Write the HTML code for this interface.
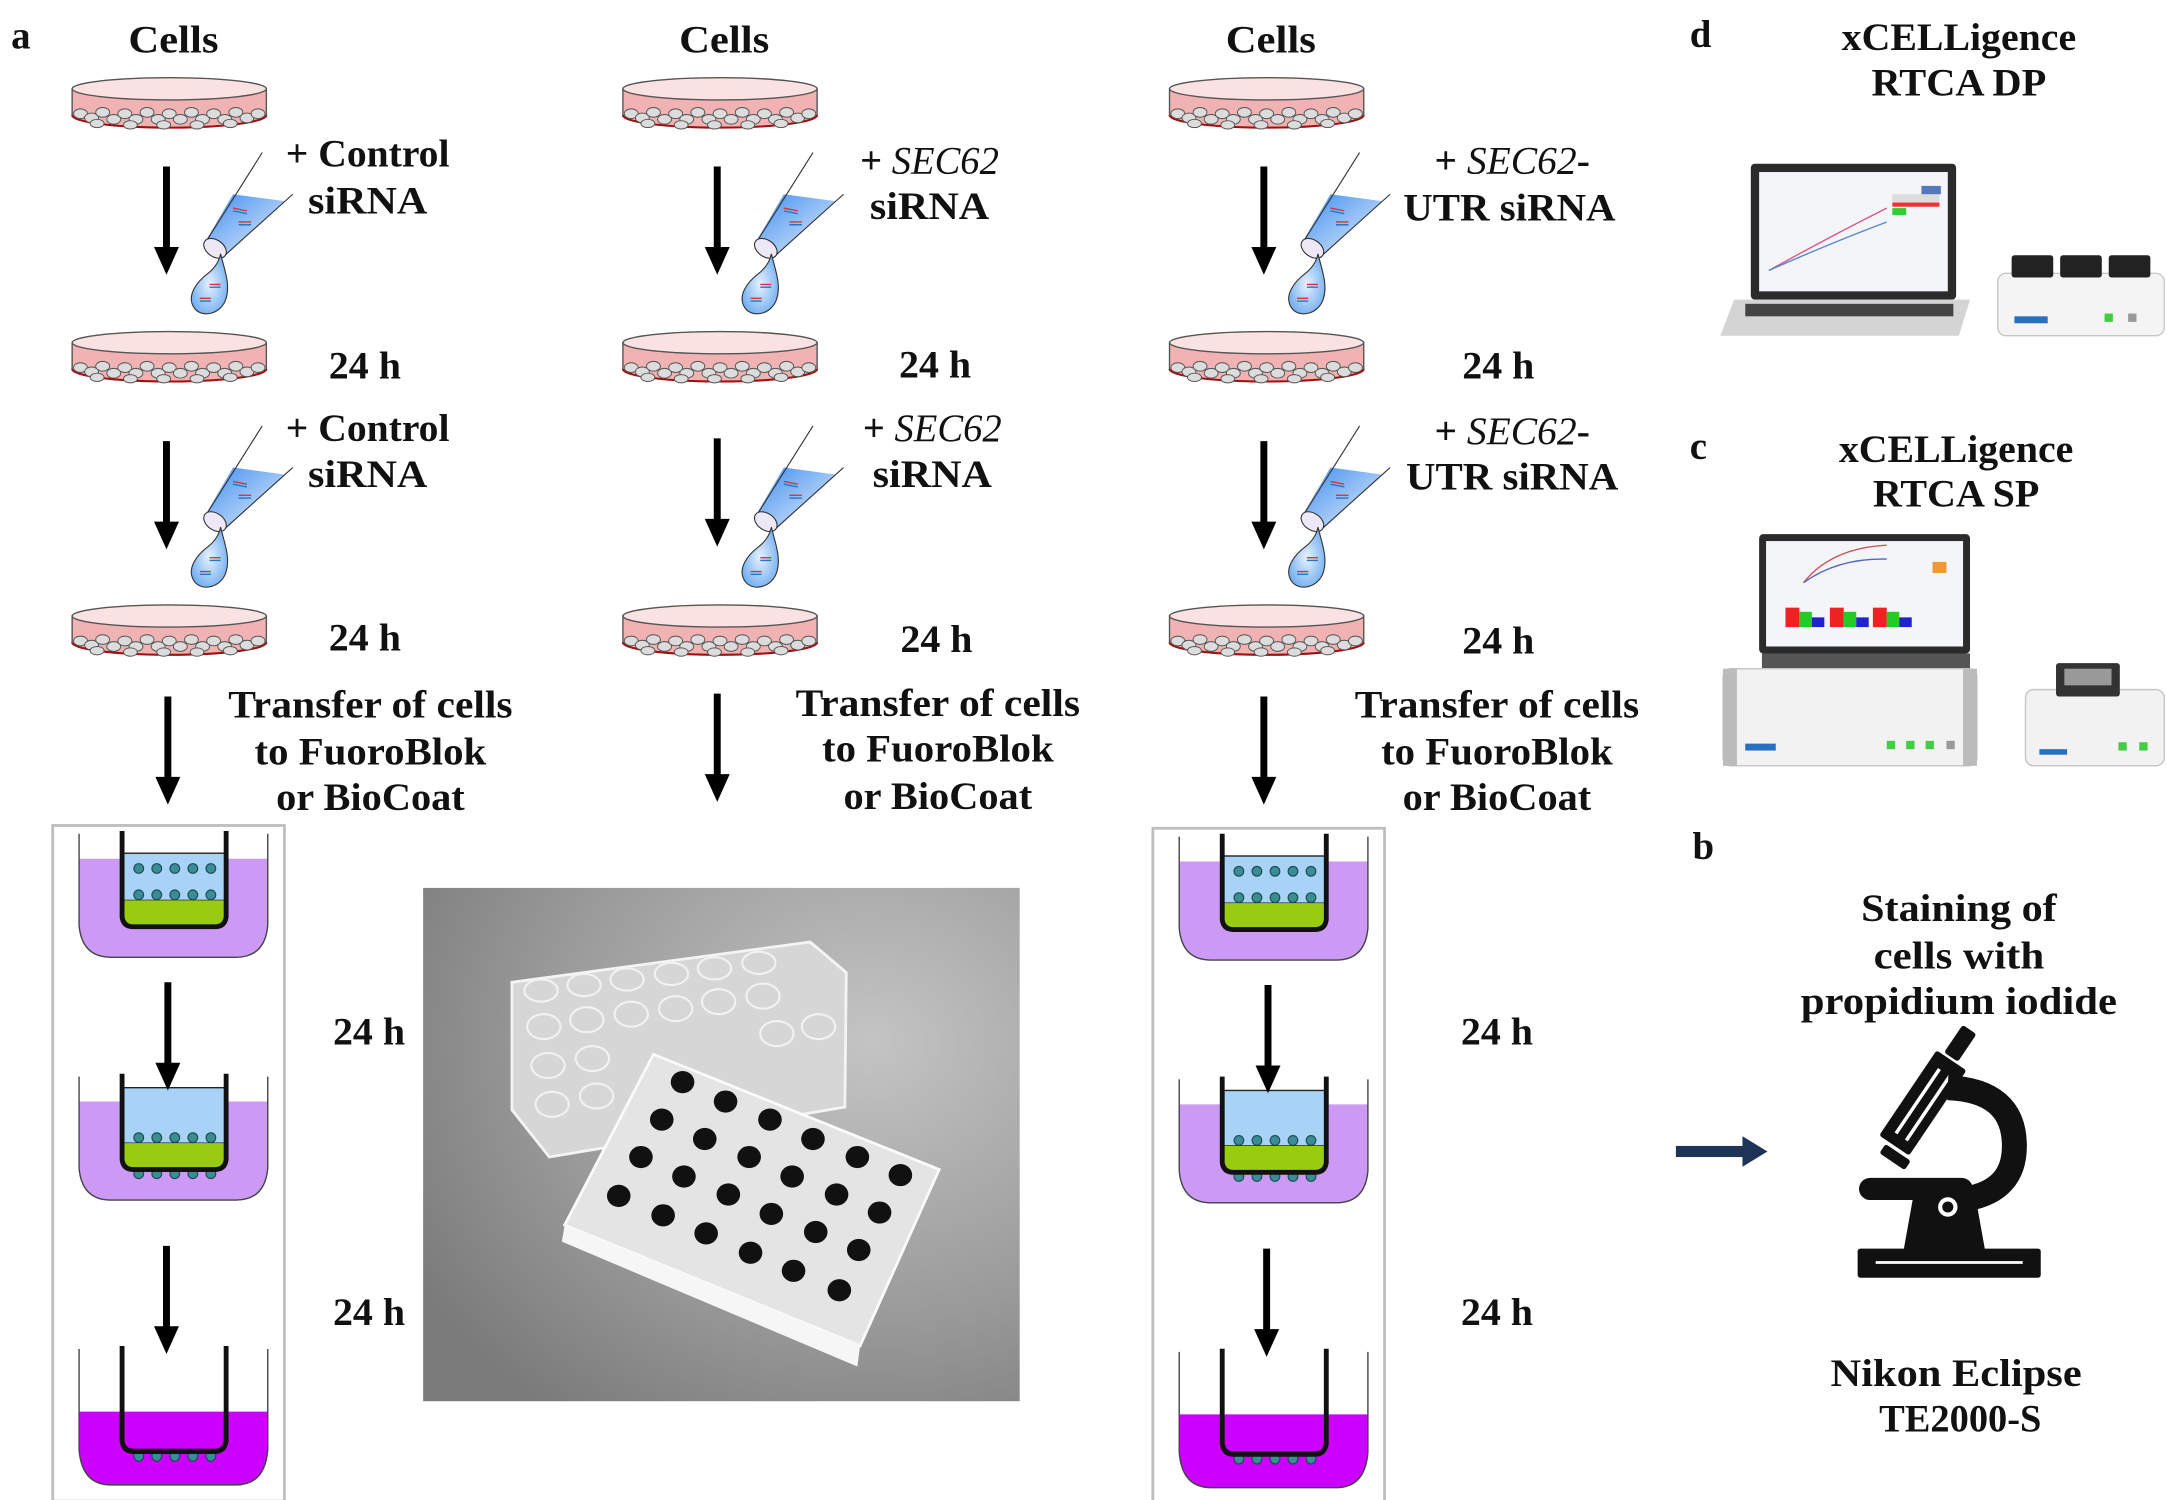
<!DOCTYPE html>
<html><head><meta charset="utf-8"><style>
html,body{margin:0;padding:0;background:#fff}
svg{display:block}
text{font-family:"Liberation Serif",serif;font-weight:bold;fill:#111;font-size:28px}
</style></head><body>
<svg width="2167" height="1500" viewBox="0 0 1562 1081.2" preserveAspectRatio="none" xmlns="http://www.w3.org/2000/svg">
<defs>
<linearGradient id="tb" x1="0" y1="0" x2="1" y2="1"><stop offset="0" stop-color="#3f8ef0"/><stop offset="1" stop-color="#e8f0fb"/></linearGradient>
<radialGradient id="dr" cx="0.5" cy="0.5" r="0.6"><stop offset="0" stop-color="#e6f1fd"/><stop offset="1" stop-color="#6aaaf0"/></radialGradient>
<radialGradient id="ph" cx="0.75" cy="0.3" r="0.9"><stop offset="0" stop-color="#c4c4c4"/><stop offset="0.6" stop-color="#9a9a9a"/><stop offset="1" stop-color="#7a7a7a"/></radialGradient>
<g id="dish">
<path d="M0,9 L0,28 A70,9 0 0 0 140,28 L140,9 Z" fill="#f0b2b2" stroke="#555" stroke-width="1"/>
<path d="M0,28 A70,9 0 0 0 140,28" fill="none" stroke="#a01010" stroke-width="1.5"/>
<g fill="#dcdcdc" stroke="#555" stroke-width="0.7">
<ellipse cx="6" cy="27" rx="5" ry="3.5"/><ellipse cx="14" cy="30" rx="5" ry="3.5"/><ellipse cx="22" cy="26" rx="5" ry="3.5"/><ellipse cx="30" cy="31" rx="5" ry="3.5"/><ellipse cx="38" cy="27" rx="5" ry="3.5"/><ellipse cx="46" cy="31" rx="5" ry="3.5"/><ellipse cx="54" cy="26" rx="5" ry="3.5"/><ellipse cx="62" cy="31" rx="5" ry="3.5"/><ellipse cx="70" cy="27" rx="5" ry="3.5"/><ellipse cx="78" cy="31" rx="5" ry="3.5"/><ellipse cx="86" cy="26" rx="5" ry="3.5"/><ellipse cx="94" cy="31" rx="5" ry="3.5"/><ellipse cx="102" cy="27" rx="5" ry="3.5"/><ellipse cx="110" cy="31" rx="5" ry="3.5"/><ellipse cx="118" cy="26" rx="5" ry="3.5"/><ellipse cx="126" cy="30" rx="5" ry="3.5"/><ellipse cx="134" cy="27" rx="5" ry="3.5"/>
<ellipse cx="18" cy="34" rx="5" ry="3"/><ellipse cx="42" cy="35" rx="5" ry="3"/><ellipse cx="66" cy="35" rx="5" ry="3"/><ellipse cx="90" cy="35" rx="5" ry="3"/><ellipse cx="114" cy="34" rx="5" ry="3"/>
</g>
<ellipse cx="70" cy="9" rx="70" ry="8" fill="#fbe2e2" stroke="#555" stroke-width="1"/>
</g>
<g id="tube">
<polygon points="168,140 205,145 163,184 148,174" fill="url(#tb)"/>
<line x1="189" y1="110" x2="148" y2="175" stroke="#333" stroke-width="0.8"/>
<line x1="211" y1="140" x2="161" y2="185" stroke="#333" stroke-width="0.8"/>
<ellipse cx="155" cy="179" rx="9" ry="6" transform="rotate(35 155 179)" fill="#ece8f6" stroke="#333" stroke-width="0.8"/>
<path d="M159,183 C162,195 166,205 163,215 C160,226 146,230 140,222 C134,213 142,203 150,197 C155,193 158,188 159,183 Z" fill="url(#dr)" stroke="#333" stroke-width="0.8"/>
<g stroke="#d33" stroke-width="1" fill="none"><path d="M144,215 l8,0 M151,205 l8,0 M168,150 l10,2 M172,160 l9,0"/></g>
<g stroke="#27c" stroke-width="1" fill="none"><path d="M144,217 l8,0 M151,207 l8,0 M168,152 l10,2 M172,162 l9,0"/></g>
</g>
<g id="arr"><line x1="0" y1="0" x2="0" y2="62" stroke="#000" stroke-width="5"/><polygon points="-9,58 9,58 0,78" fill="#000"/></g>
<g id="well">
<path d="M2,22 L2,70 Q4,93 25,93 L115,93 Q136,93 138,70 L138,22 Z" fill="#cc9af5"/>
<path d="M2,4 L2,70 Q4,93 25,93 L115,93 Q136,93 138,70 L138,4" fill="none" stroke="#444" stroke-width="1"/>
</g>
<g id="ins"><path d="M33,2 L33,64 Q34,71 41,71 L100,71 Q107,71 108,64 L108,2" fill="none" stroke="#111" stroke-width="3.5"/></g>
</defs>

<!-- labels a -->
<text x="8" y="35" font-size="30">a</text>
<text x="125" y="38" text-anchor="middle" textLength="65" lengthAdjust="spacingAndGlyphs">Cells</text>
<text x="522" y="38" text-anchor="middle" textLength="65" lengthAdjust="spacingAndGlyphs">Cells</text>
<text x="916" y="38" text-anchor="middle" textLength="65" lengthAdjust="spacingAndGlyphs">Cells</text>

<!-- column 1 -->
<use href="#dish" x="52" y="55"/>
<use href="#dish" x="52" y="238"/>
<use href="#dish" x="52" y="435"/>
<use href="#tube"/>
<use href="#tube" y="197"/>
<use href="#arr" x="120" y="120"/><use href="#arr" x="120" y="318"/><use href="#arr" x="121" y="502"/>
<!-- column 2 -->
<use href="#dish" x="449" y="55"/>
<use href="#dish" x="449" y="238"/>
<use href="#dish" x="449" y="435"/>
<use href="#tube" x="397"/>
<use href="#tube" x="397" y="197"/>
<use href="#arr" x="517" y="120"/><use href="#arr" x="517" y="316"/><use href="#arr" x="517" y="500"/>
<!-- column 3 -->
<use href="#dish" x="843" y="55"/>
<use href="#dish" x="843" y="238"/>
<use href="#dish" x="843" y="435"/>
<use href="#tube" x="791"/>
<use href="#tube" x="791" y="197"/>
<use href="#arr" x="911" y="120"/><use href="#arr" x="911" y="318"/><use href="#arr" x="911" y="502"/>

<!-- texts col1 -->
<text x="265" y="120" text-anchor="middle" textLength="118" lengthAdjust="spacingAndGlyphs">+ Control</text>
<text x="265" y="154" text-anchor="middle" textLength="86" lengthAdjust="spacingAndGlyphs">siRNA</text>
<text x="263" y="273" text-anchor="middle" textLength="52" lengthAdjust="spacingAndGlyphs">24 h</text>
<text x="265" y="318" text-anchor="middle" textLength="118" lengthAdjust="spacingAndGlyphs">+ Control</text>
<text x="265" y="351" text-anchor="middle" textLength="86" lengthAdjust="spacingAndGlyphs">siRNA</text>
<text x="263" y="469" text-anchor="middle" textLength="52" lengthAdjust="spacingAndGlyphs">24 h</text>
<text x="267" y="517" text-anchor="middle" textLength="205" lengthAdjust="spacingAndGlyphs">Transfer of cells</text>
<text x="267" y="551" text-anchor="middle" textLength="167" lengthAdjust="spacingAndGlyphs">to FuoroBlok</text>
<text x="267" y="584" text-anchor="middle" textLength="136" lengthAdjust="spacingAndGlyphs">or BioCoat</text>
<!-- texts col2 -->
<text x="670" y="125" text-anchor="middle" textLength="100" lengthAdjust="spacingAndGlyphs">+ <tspan font-style="italic" font-weight="normal">SEC62</tspan></text>
<text x="670" y="158" text-anchor="middle" textLength="86" lengthAdjust="spacingAndGlyphs">siRNA</text>
<text x="674" y="272" text-anchor="middle" textLength="52" lengthAdjust="spacingAndGlyphs">24 h</text>
<text x="672" y="318" text-anchor="middle" textLength="100" lengthAdjust="spacingAndGlyphs">+ <tspan font-style="italic" font-weight="normal">SEC62</tspan></text>
<text x="672" y="351" text-anchor="middle" textLength="86" lengthAdjust="spacingAndGlyphs">siRNA</text>
<text x="675" y="470" text-anchor="middle" textLength="52" lengthAdjust="spacingAndGlyphs">24 h</text>
<text x="676" y="516" text-anchor="middle" textLength="205" lengthAdjust="spacingAndGlyphs">Transfer of cells</text>
<text x="676" y="549" text-anchor="middle" textLength="167" lengthAdjust="spacingAndGlyphs">to FuoroBlok</text>
<text x="676" y="583" text-anchor="middle" textLength="136" lengthAdjust="spacingAndGlyphs">or BioCoat</text>
<!-- texts col3 -->
<text x="1090" y="125" text-anchor="middle" textLength="112" lengthAdjust="spacingAndGlyphs">+ <tspan font-style="italic" font-weight="normal">SEC62</tspan>-</text>
<text x="1088" y="159" text-anchor="middle" textLength="153" lengthAdjust="spacingAndGlyphs">UTR siRNA</text>
<text x="1080" y="273" text-anchor="middle" textLength="52" lengthAdjust="spacingAndGlyphs">24 h</text>
<text x="1090" y="320" text-anchor="middle" textLength="112" lengthAdjust="spacingAndGlyphs">+ <tspan font-style="italic" font-weight="normal">SEC62</tspan>-</text>
<text x="1090" y="353" text-anchor="middle" textLength="153" lengthAdjust="spacingAndGlyphs">UTR siRNA</text>
<text x="1080" y="471" text-anchor="middle" textLength="52" lengthAdjust="spacingAndGlyphs">24 h</text>
<text x="1079" y="517" text-anchor="middle" textLength="205" lengthAdjust="spacingAndGlyphs">Transfer of cells</text>
<text x="1079" y="551" text-anchor="middle" textLength="167" lengthAdjust="spacingAndGlyphs">to FuoroBlok</text>
<text x="1079" y="584" text-anchor="middle" textLength="136" lengthAdjust="spacingAndGlyphs">or BioCoat</text>

<!-- boxes -->
<g id="box1">
<rect x="38" y="595" width="167" height="487" fill="#fff" stroke="#bdbdbd" stroke-width="2"/>
<!-- well1 -->
<g transform="translate(55,597)">
<use href="#well"/>
<rect x="33" y="18" width="75" height="34" fill="#a9d3f6" stroke="#222" stroke-width="1"/>
<path d="M33,52 L108,52 L106,65 Q105,70 100,70 L41,70 Q36,70 35,65 Z" fill="#99cc11"/>
<g fill="#3a8d96" stroke="#1a4a50" stroke-width="0.8"><circle cx="45" cy="29" r="3.5"/><circle cx="58" cy="29" r="3.5"/><circle cx="71" cy="29" r="3.5"/><circle cx="84" cy="29" r="3.5"/><circle cx="97" cy="29" r="3.5"/><circle cx="45" cy="48" r="3.5"/><circle cx="58" cy="48" r="3.5"/><circle cx="71" cy="48" r="3.5"/><circle cx="84" cy="48" r="3.5"/><circle cx="97" cy="48" r="3.5"/></g>
<use href="#ins"/>
</g>
<!-- well2 -->
<g transform="translate(55,772)">
<use href="#well"/>
<rect x="33" y="12" width="75" height="40" fill="#a9d3f6" stroke="#222" stroke-width="1"/>
<path d="M33,52 L108,52 L106,65 Q105,70 100,70 L41,70 Q36,70 35,65 Z" fill="#99cc11"/>
<g fill="#3a8d96" stroke="#1a4a50" stroke-width="0.8"><circle cx="45" cy="48" r="3.5"/><circle cx="58" cy="48" r="3.5"/><circle cx="71" cy="48" r="3.5"/><circle cx="84" cy="48" r="3.5"/><circle cx="97" cy="48" r="3.5"/><circle cx="45" cy="74" r="3.5"/><circle cx="58" cy="74" r="3.5"/><circle cx="71" cy="74" r="3.5"/><circle cx="84" cy="74" r="3.5"/><circle cx="97" cy="74" r="3.5"/></g>
<use href="#ins"/>
</g>
<!-- well3 -->
<g transform="translate(55,968) scale(1,1.1)">
<path d="M2,45 L2,70 Q4,93 25,93 L115,93 Q136,93 138,70 L138,45 Z" fill="#cc00ff"/>
<path d="M2,4 L2,70 Q4,93 25,93 L115,93 Q136,93 138,70 L138,4" fill="none" stroke="#444" stroke-width="1"/>
<g fill="#3a8d96" stroke="#1a4a50" stroke-width="0.8"><circle cx="45" cy="74" r="3.5"/><circle cx="58" cy="74" r="3.5"/><circle cx="71" cy="74" r="3.5"/><circle cx="84" cy="74" r="3.5"/><circle cx="97" cy="74" r="3.5"/></g>
<use href="#ins"/>
</g>
<use href="#arr" x="121" y="708"/>
<use href="#arr" x="120" y="898"/>
</g>
<use href="#box1" x="793" y="2"/>
<text x="266" y="753" text-anchor="middle" textLength="52" lengthAdjust="spacingAndGlyphs">24 h</text>
<text x="266" y="955" text-anchor="middle" textLength="52" lengthAdjust="spacingAndGlyphs">24 h</text>
<text x="1079" y="753" text-anchor="middle" textLength="52" lengthAdjust="spacingAndGlyphs">24 h</text>
<text x="1079" y="955" text-anchor="middle" textLength="52" lengthAdjust="spacingAndGlyphs">24 h</text>

<!-- photo -->
<rect x="305" y="640" width="430" height="370" fill="url(#ph)"/>
<polygon points="369,708 584,679 610,701 609,798 396,834 369,800" fill="#d6d6d6" stroke="#f4f4f4" stroke-width="2"/>
<g fill="none" stroke="#f2f2f2" stroke-width="1.5">
<ellipse cx="390" cy="714" rx="12" ry="8"/><ellipse cx="421" cy="710" rx="12" ry="8"/><ellipse cx="452" cy="706" rx="12" ry="8"/><ellipse cx="484" cy="702" rx="12" ry="8"/><ellipse cx="515" cy="698" rx="12" ry="8"/><ellipse cx="547" cy="694" rx="12" ry="8"/>
<ellipse cx="392" cy="740" rx="12" ry="9"/><ellipse cx="423" cy="735" rx="12" ry="9"/><ellipse cx="455" cy="731" rx="12" ry="9"/><ellipse cx="487" cy="727" rx="12" ry="9"/><ellipse cx="518" cy="722" rx="12" ry="9"/><ellipse cx="550" cy="718" rx="12" ry="9"/>
<ellipse cx="395" cy="768" rx="12" ry="9"/><ellipse cx="427" cy="763" rx="12" ry="9"/><ellipse cx="560" cy="745" rx="12" ry="9"/><ellipse cx="590" cy="740" rx="12" ry="9"/>
<ellipse cx="398" cy="796" rx="12" ry="9"/><ellipse cx="430" cy="790" rx="12" ry="9"/>
</g>
<polygon points="471,760 677,843 620,970 407,883" fill="#e4e4e4" stroke="#fafafa" stroke-width="2"/>
<polygon points="407,883 620,970 618,985 405,895" fill="#f6f6f6"/>
<g fill="#111">
<ellipse cx="492" cy="780" rx="8.5" ry="8"/><ellipse cx="523" cy="794" rx="8.5" ry="8"/><ellipse cx="555" cy="807" rx="8.5" ry="8"/><ellipse cx="586" cy="821" rx="8.5" ry="8"/><ellipse cx="618" cy="834" rx="8.5" ry="8"/><ellipse cx="649" cy="847" rx="8.5" ry="8"/>
<ellipse cx="477" cy="807" rx="8.5" ry="8"/><ellipse cx="508" cy="821" rx="8.5" ry="8"/><ellipse cx="540" cy="834" rx="8.5" ry="8"/><ellipse cx="571" cy="848" rx="8.5" ry="8"/><ellipse cx="603" cy="861" rx="8.5" ry="8"/><ellipse cx="634" cy="874" rx="8.5" ry="8"/>
<ellipse cx="462" cy="834" rx="8.5" ry="8"/><ellipse cx="493" cy="848" rx="8.5" ry="8"/><ellipse cx="525" cy="861" rx="8.5" ry="8"/><ellipse cx="556" cy="875" rx="8.5" ry="8"/><ellipse cx="588" cy="888" rx="8.5" ry="8"/><ellipse cx="619" cy="901" rx="8.5" ry="8"/>
<ellipse cx="446" cy="862" rx="8.5" ry="8"/><ellipse cx="478" cy="876" rx="8.5" ry="8"/><ellipse cx="509" cy="889" rx="8.5" ry="8"/><ellipse cx="541" cy="903" rx="8.5" ry="8"/><ellipse cx="572" cy="916" rx="8.5" ry="8"/><ellipse cx="605" cy="930" rx="8.5" ry="8"/>
</g>

<!-- right: d -->
<text x="1218" y="34" font-size="30">d</text>
<text x="1412" y="36" text-anchor="middle" textLength="169" lengthAdjust="spacingAndGlyphs">xCELLigence</text>
<text x="1412" y="69" text-anchor="middle" textLength="126" lengthAdjust="spacingAndGlyphs">RTCA DP</text>
<rect x="1262" y="118" width="148" height="98" rx="3" fill="#2b2b2b"/>
<rect x="1268" y="124" width="136" height="86" fill="#f3f5f9"/>
<path d="M1275,195 Q1320,170 1360,150" stroke="#d58" fill="none"/><path d="M1275,195 Q1320,175 1360,160" stroke="#58c" fill="none"/>
<rect x="1364" y="140" width="34" height="6" fill="#ddd"/><rect x="1364" y="146" width="34" height="3" fill="#e33"/><rect x="1364" y="150" width="10" height="5" fill="#3c3"/><rect x="1385" y="134" width="14" height="6" fill="#57b"/>
<polygon points="1250,216 1420,216 1412,242 1240,242" fill="#d4d4d4"/>
<rect x="1258" y="219" width="150" height="9" fill="#444"/>
<rect x="1440" y="197" width="120" height="45" rx="6" fill="#f4f4f4" stroke="#c8c8c8"/>
<rect x="1450" y="184" width="30" height="16" rx="2" fill="#222"/><rect x="1485" y="184" width="30" height="16" rx="2" fill="#222"/><rect x="1520" y="184" width="30" height="16" rx="2" fill="#222"/>
<rect x="1452" y="228" width="24" height="5" fill="#2a6fc0"/><rect x="1517" y="226" width="6" height="6" fill="#4c4"/><rect x="1534" y="226" width="6" height="6" fill="#999"/>

<!-- c -->
<text x="1218" y="331" font-size="30">c</text>
<text x="1410" y="333" text-anchor="middle" textLength="169" lengthAdjust="spacingAndGlyphs">xCELLigence</text>
<text x="1410" y="365" text-anchor="middle" textLength="120" lengthAdjust="spacingAndGlyphs">RTCA SP</text>
<rect x="1268" y="385" width="152" height="86" rx="3" fill="#2b2b2b"/>
<rect x="1273" y="390" width="142" height="76" fill="#f3f5f9"/>
<path d="M1300,420 Q1320,395 1360,393" stroke="#c55" fill="none"/><path d="M1300,420 Q1325,402 1360,403" stroke="#56b" fill="none"/>
<rect x="1287" y="438" width="10" height="14" fill="#e22"/><rect x="1297" y="441" width="9" height="11" fill="#2c2"/><rect x="1306" y="445" width="9" height="7" fill="#22c"/>
<rect x="1319" y="438" width="10" height="14" fill="#e22"/><rect x="1329" y="441" width="9" height="11" fill="#2c2"/><rect x="1338" y="445" width="9" height="7" fill="#22c"/>
<rect x="1350" y="438" width="10" height="14" fill="#e22"/><rect x="1360" y="441" width="9" height="11" fill="#2c2"/><rect x="1369" y="445" width="9" height="7" fill="#22c"/>
<rect x="1393" y="405" width="10" height="8" fill="#e93"/>
<rect x="1270" y="471" width="150" height="12" fill="#555"/>
<rect x="1242" y="482" width="183" height="70" rx="6" fill="#f2f2f2" stroke="#c4c4c4"/>
<rect x="1242" y="482" width="10" height="70" fill="#bbb"/><rect x="1415" y="482" width="10" height="70" fill="#bbb"/>
<rect x="1258" y="536" width="22" height="5" fill="#2a6fc0"/>
<rect x="1360" y="534" width="6" height="6" fill="#4c4"/><rect x="1374" y="534" width="6" height="6" fill="#4c4"/><rect x="1388" y="534" width="6" height="6" fill="#4c4"/><rect x="1403" y="534" width="6" height="6" fill="#999"/>
<rect x="1460" y="497" width="100" height="55" rx="6" fill="#f2f2f2" stroke="#c4c4c4"/>
<rect x="1482" y="478" width="46" height="24" rx="2" fill="#333"/><rect x="1488" y="482" width="34" height="12" fill="#999"/>
<rect x="1470" y="540" width="20" height="4" fill="#2a6fc0"/><rect x="1527" y="535" width="6" height="6" fill="#4c4"/><rect x="1542" y="535" width="6" height="6" fill="#4c4"/>

<!-- b -->
<text x="1220" y="619" font-size="30">b</text>
<text x="1412" y="664" text-anchor="middle" textLength="141" lengthAdjust="spacingAndGlyphs">Staining of</text>
<text x="1412" y="698" text-anchor="middle" textLength="123" lengthAdjust="spacingAndGlyphs">cells with</text>
<text x="1412" y="731" text-anchor="middle" textLength="228" lengthAdjust="spacingAndGlyphs">propidium iodide</text>
<text x="1410" y="999" text-anchor="middle" textLength="181" lengthAdjust="spacingAndGlyphs">Nikon Eclipse</text>
<text x="1413" y="1032" text-anchor="middle" textLength="117" lengthAdjust="spacingAndGlyphs">TE2000-S</text>
<!-- navy arrow -->
<rect x="1208" y="826" width="50" height="8" fill="#1f3358"/>
<polygon points="1256,819 1274,830 1256,841" fill="#1f3358"/>
<!-- microscope -->
<g fill="#111">
<g transform="rotate(-56 1386 795)"><rect x="1349" y="782" width="74" height="26" rx="2"/><rect x="1357" y="790" width="56" height="2.5" fill="#fff"/><rect x="1357" y="799" width="56" height="2.5" fill="#fff"/></g>
<g transform="rotate(-56 1413 752)"><rect x="1401" y="746" width="24" height="12" rx="2"/></g>
<g transform="rotate(34 1366 834)"><rect x="1355" y="830" width="22" height="8" rx="2"/></g>
<path d="M1404,784 Q1452,786 1452,826 Q1452,858 1418,864" fill="none" stroke="#111" stroke-width="18"/>
<rect x="1340" y="849" width="82" height="16" rx="8"/>
<polygon points="1379,863 1424,863 1431,902 1372,902"/>
<rect x="1339" y="900" width="132" height="21" rx="2"/>
<rect x="1352" y="909" width="106" height="2" fill="#fff"/>
<circle cx="1404" cy="870" r="7" fill="#fff"/><circle cx="1404" cy="870" r="4"/>
</g>
</svg>
</body></html>
